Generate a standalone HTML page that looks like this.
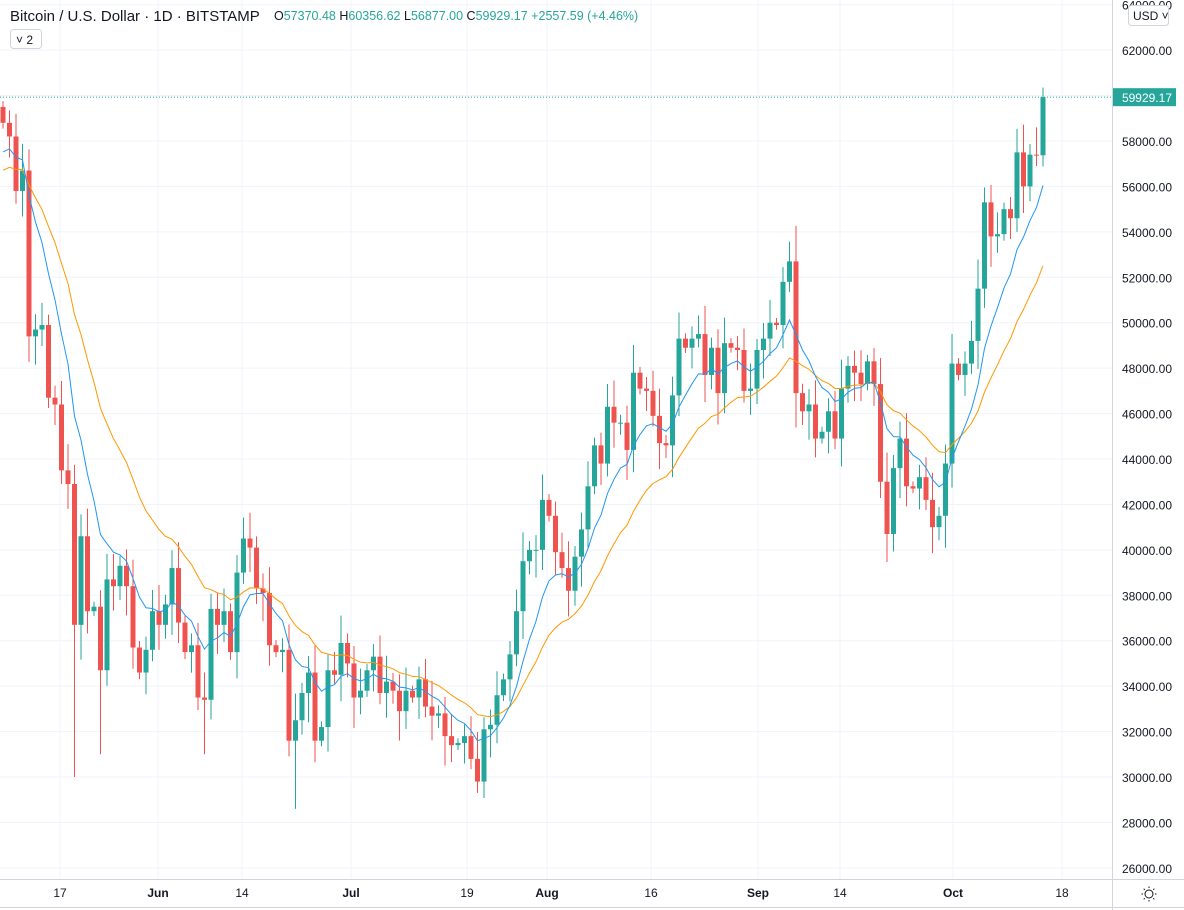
<!DOCTYPE html>
<html><head><meta charset="utf-8"><style>
html,body{margin:0;padding:0;background:#fff;width:1184px;height:910px;overflow:hidden;font-family:"Liberation Sans",sans-serif}
svg text{font-family:"Liberation Sans",sans-serif}
</style></head><body>
<svg id="s" width="1184" height="910" xmlns="http://www.w3.org/2000/svg"></svg>
<script>
const S=document.getElementById('s');let h='';
const Y=p=>141+(58000-p)/2000*45.43;
const closes=[58800,58200,55800,56700,49400,49700,49900,46700,46400,43500,42900,36700,40600,37300,37500,34700,38700,38400,39300,38400,35700,34600,35600,37300,36700,37600,39200,36800,35500,35800,33500,33400,37400,36700,37300,35500,39000,40500,40100,38300,38100,35800,35500,35600,31600,32500,33700,34600,31600,32200,34700,34500,35900,35000,33500,33800,34700,35300,33700,34200,33800,32900,33800,33500,34300,33100,32700,32800,31800,31400,31500,31800,30800,29800,32100,32300,33600,34300,35400,37300,39500,40000,40000,42200,41500,39900,39200,38200,39700,40900,42800,44600,43800,46300,45600,45600,44400,47800,47100,47000,45900,44700,44600,46800,49300,48900,49300,49500,47700,48900,46900,49100,48900,48800,47000,47100,48800,49300,50000,49900,51800,52700,46900,46100,46400,44900,45200,46100,44900,47100,48100,47800,47300,48300,47300,43000,40700,43600,44900,42800,42700,43200,42200,41000,41500,43800,48200,47700,48200,49200,51500,55300,53800,53900,55000,54600,57500,56000,57400,57370,59929];
const N=closes.length;
const X=i=>1043+(i-(N-1))*6.5;
[60,158,242,351,467,547,651,758,840,953,1062].forEach(x=>h+=`<line x1="${x}" y1="0" x2="${x}" y2="880" stroke="#f0f3fa"/>`);
for(let p=26000;p<=64000;p+=2000){const y=Y(p);h+=`<line x1="0" y1="${y}" x2="1112" y2="${y}" stroke="#f0f3fa"/>`;h+=`<text x="1172" y="${y+5}" font-size="12" fill="#131722" text-anchor="end">${p}.00</text>`;}
let prev=57500;
let ema9=57200,ema21=56500;const k9=2/10,k21=2/22;let b=[],o=[];
closes.forEach((c,i)=>{const op=i==0?59500:prev;const up=c>=op;const x=X(i);
 const r=Math.abs(c-op);let hi=Math.max(c,op)+200+((i*37)%7)*150+r*0.08;let lo=Math.min(c,op)-200-((i*53)%7)*170-r*0.08;
 if(c===36700&&i<20)lo=30000;
 if(c===34700&&i<20)lo=31000;
 if(i===31)lo=31000;
 if(i===45)lo=28600;
 if(i===73)lo=29300;
 if(i===N-1){hi=60356;lo=56877;}
 if(i===N-2){hi=58600;lo=56900;}
 const col=up?'#26a69a':'#ef5350';
 h+=`<line x1="${x}" y1="${Y(hi)}" x2="${x}" y2="${Y(lo)}" stroke="${col}" stroke-width="1"/>`;
 const y1=Y(Math.max(c,op)),y2=Y(Math.min(c,op));
 h+=`<rect x="${x-2.5}" y="${y1}" width="5" height="${Math.max(1,y2-y1)}" fill="${col}"/>`;
 ema9=ema9+k9*(c-ema9);ema21=ema21+k21*(c-ema21);b.push(x+','+Y(ema9));o.push(x+','+Y(ema21));prev=c;});
h+=`<polyline points="${o.join(' ')}" fill="none" stroke="#ff9800" stroke-width="1"/>`;
h+=`<polyline points="${b.join(' ')}" fill="none" stroke="#2196f3" stroke-width="1"/>`;
const yl=Y(59929.17);
h+=`<line x1="0" y1="${yl}" x2="1112" y2="${yl}" stroke="#26a69a" stroke-dasharray="1,2"/>`;
h+=`<rect x="1112" y="${yl-9}" width="64" height="18" fill="#26a69a"/><text x="1172" y="${yl+5}" font-size="12" fill="#fff" text-anchor="end">59929.17</text>`;
h+=`<line x1="1112.5" y1="0" x2="1112.5" y2="910" stroke="#d1d4dc"/>`;
h+=`<line x1="0" y1="879.5" x2="1184" y2="879.5" stroke="#d1d4dc"/>`;
h+=`<line x1="0" y1="907.5" x2="1184" y2="907.5" stroke="#d1d4dc"/>`;
[['17',60],['Jun',158],['14',242],['Jul',351],['19',467],['Aug',547],['16',651],['Sep',758],['14',840],['Oct',953],['18',1062]].forEach(([t,x])=>{const bold=isNaN(+t);h+=`<text x="${x}" y="897" font-size="12" fill="#131722" text-anchor="middle" ${bold?'font-weight="bold"':''}>${t}</text>`});
h+=`<circle cx="1149" cy="894" r="4" fill="none" stroke="#131722"/>`;
for(let a=0;a<8;a++){const t=a*Math.PI/4;h+=`<line x1="${1149+6*Math.cos(t)}" y1="${894+6*Math.sin(t)}" x2="${1149+7.5*Math.cos(t)}" y2="${894+7.5*Math.sin(t)}" stroke="#131722"/>`}
h+=`<rect x="1128.5" y="5.5" width="40" height="20" rx="3" fill="#fff" stroke="#d1d4dc"/><text x="1133" y="20" font-size="12" fill="#131722">USD ˅</text>`;
h+=`<text x="10" y="21" font-size="15" fill="#131722">Bitcoin / U.S. Dollar · 1D · BITSTAMP</text>`;
h+=`<text x="274" y="20" font-size="12.5" fill="#26a69a"><tspan fill="#131722">O</tspan>57370.48 <tspan fill="#131722">H</tspan>60356.62 <tspan fill="#131722">L</tspan>56877.00 <tspan fill="#131722">C</tspan>59929.17 +2557.59 (+4.46%)</text>`;
h+=`<rect x="10.5" y="29.5" width="31" height="19" rx="3" fill="#fff" stroke="#d1d4dc"/><text x="16" y="44" font-size="12" fill="#131722">˅ 2</text>`;
S.innerHTML=h;
</script>
</body></html>
